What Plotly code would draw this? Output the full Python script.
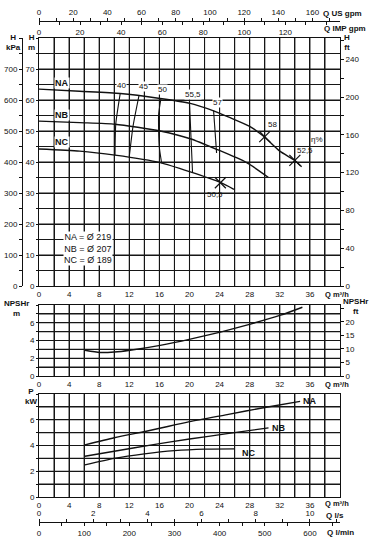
import plotly.graph_objects as go

# ---------------- data ----------------
q_na = [0, 5.4, 10.8, 16.1, 20.1, 23.2, 25.4, 28.0, 29.8, 32.0, 34.0, 34.9]
h_na = [63.5, 62.8, 62.1, 60.5, 58.9, 56.5, 54.3, 51.5, 48.4, 43.5, 40.5, 38.5]
q_nb = [0, 5.4, 10.1, 16.1, 20.1, 23.6, 27.6, 30.5]
h_nb = [53.2, 52.7, 52.2, 50.0, 47.5, 44.1, 39.8, 35.0]
q_nc = [0, 5.4, 10.1, 16.1, 20.1, 24.1, 25.9]
h_nc = [44.2, 43.5, 42.2, 39.8, 36.8, 33.4, 31.2]

eff_lines = {
    "40": ([10.8, 10.2, 10.1], [62.2, 52.2, 42.2]),
    "45": ([13.3, 12.5, 12.0], [61.6, 51.6, 41.8]),
    "50": ([16.2, 15.9, 15.9, 16.0, 16.3], [60.4, 55.4, 50.0, 44.6, 39.6]),
    "55,5": ([20.0, 20.2, 20.4], [59.0, 47.9, 36.8]),
    "57": ([23.2, 23.6], [56.6, 42.9]),
}
eff_label_q = [11.0, 13.9, 16.4, 20.4, 23.7]
eff_label_h = [64.8, 64.2, 63.4, 61.7, 59.2]
eff_label_t = ["40", "45", "50", "55,5", "57"]

x_marks_q = [30.0, 34.0, 24.1]
x_marks_h = [48.2, 40.5, 33.3]
x_marks_lbl = ["58", "52,5", "50,5"]
x_marks_lq = [31.0, 35.3, 23.4]
x_marks_lh = [52.2, 43.6, 29.5]

q_npsh = [6.1, 8.1, 10, 12.1, 16.1, 20.1, 24.1, 28.1, 32.1, 35.0]
npsh = [2.9, 2.65, 2.7, 2.9, 3.45, 4.15, 4.95, 5.85, 6.85, 7.75]

q_pna = [6.1, 10, 15, 20, 25, 30, 34.7]
p_na = [4.05, 4.6, 5.2, 5.85, 6.4, 6.95, 7.43]
q_pnb = [6.1, 10, 15, 20, 25, 30.5]
p_nb = [3.17, 3.55, 4.05, 4.5, 4.92, 5.37]
q_pnc = [6.1, 10, 14, 18, 22, 26]
p_nc = [2.5, 3.0, 3.35, 3.6, 3.72, 3.74]

diam_text = ["NA = Ø 219", "NB = Ø 207", "NC = Ø 189"]

# ---------------- geometry ----------------
W, H = 378, 546
XL, XR = 39, 340
def py(p):
    return 1 - p / H

xdom = [XL / W, XR / W]
dom_h = [py(286), py(38)]
dom_n = [py(376), py(305)]
dom_p = [py(497), py(394)]

FONT = "Liberation Sans, Arial, Helvetica, sans-serif"
BLK = "#111"
GRID = "#161616"

fig = go.Figure()
LW = 1.4

def line(x, y, xa, ya, w=LW):
    fig.add_trace(go.Scatter(x=x, y=y, xaxis=xa, yaxis=ya, mode="lines",
                             line=dict(color=BLK, width=w, shape="spline", smoothing=0.6),
                             hoverinfo="skip", showlegend=False))

line(q_na, h_na, "x", "y")
line(q_nb, h_nb, "x", "y")
line(q_nc, h_nc, "x", "y")
for k, (qq, hh) in eff_lines.items():
    line(qq, hh, "x", "y", 1.1)
fig.add_trace(go.Scatter(x=x_marks_q, y=x_marks_h, xaxis="x", yaxis="y", mode="markers",
                         marker=dict(symbol="x-thin", size=11, line=dict(color=BLK, width=1.2)),
                         hoverinfo="skip", showlegend=False))

line(q_npsh, npsh, "x2", "y3")
line(q_pna, p_na, "x3", "y5")
line(q_pnb, p_nb, "x3", "y5")
line(q_pnc, p_nc, "x3", "y5")

tick_font = dict(family=FONT, size=8, color=BLK)

def xq(dom_anchor):
    tv = list(range(0, 41, 2))
    tt = [str(v) if (v % 4 == 0 and v < 40) else "" for v in tv]
    return dict(domain=xdom, range=[0, 40], tickvals=tv, ticktext=tt, showgrid=True,
                gridcolor=GRID, gridwidth=1, showline=True, linecolor=BLK, linewidth=1,
                mirror=True, ticks="", tickfont=tick_font, anchor=dom_anchor,
                zeroline=False, automargin=False)

m_tv = list(range(0, 81, 5))
m_tt = [str(v) if (v % 10 == 0 and v < 80) else "" for v in m_tv]

fig.update_layout(
    width=W, height=H, margin=dict(l=0, r=0, t=0, b=0, autoexpand=False),
    paper_bgcolor="white", plot_bgcolor="rgba(0,0,0,0)",
    font=dict(family=FONT, size=8, color=BLK),
    xaxis=xq("y"), xaxis2=xq("y3"), xaxis3=xq("y5"),
    yaxis=dict(domain=dom_h, range=[0, 80], tickvals=m_tv, ticktext=m_tt, showgrid=True,
               gridcolor=GRID, gridwidth=1, showline=True, linecolor=BLK, mirror=True,
               ticks="outside", ticklen=2, tickcolor=BLK, tickfont=tick_font, anchor="x",
               zeroline=False, automargin=False),
    yaxis2=dict(domain=dom_h, range=[0, 80 / 0.3048], overlaying="y", side="right", anchor="x",
                tickvals=list(range(0, 261, 20)),
                ticktext=[str(v) if v % 40 == 0 else "" for v in range(0, 261, 20)],
                ticks="outside", ticklen=3, tickcolor=BLK, showgrid=False, tickfont=tick_font,
                zeroline=False, automargin=False),
    yaxis7=dict(domain=dom_h, range=[0, 800], overlaying="y", anchor="free", position=22 / W,
                side="left", tickvals=list(range(0, 801, 50)),
                ticktext=[str(v) if (v % 100 == 0 and v < 800) else "" for v in range(0, 801, 50)],
                ticks="outside", ticklen=3, tickcolor=BLK, showline=True, linecolor=BLK,
                linewidth=1, showgrid=False, tickfont=tick_font, zeroline=False, automargin=False),
    yaxis3=dict(domain=dom_n, range=[0, 8], tickvals=list(range(0, 9)),
                ticktext=[str(v) if (v % 2 == 0 and v < 8) else "" for v in range(0, 9)],
                showgrid=True, gridcolor=GRID, gridwidth=1, showline=True, linecolor=BLK,
                mirror=True, ticks="outside", ticklen=2, tickcolor=BLK, tickfont=tick_font,
                anchor="x2", zeroline=False, automargin=False),
    yaxis4=dict(domain=dom_n, range=[0, 8 / 0.3048], overlaying="y3", side="right", anchor="x2",
                tickvals=[0, 5, 10, 15, 20, 25], ticktext=["0", "5", "10", "15", "20", ""],
                ticks="outside", ticklen=3, tickcolor=BLK, showgrid=False, tickfont=tick_font,
                zeroline=False, automargin=False),
    yaxis5=dict(domain=dom_p, range=[0, 8], tickvals=list(range(0, 9)),
                ticktext=[str(v) if (v % 2 == 0 and v < 8) else "" for v in range(0, 9)],
                showgrid=True, gridcolor=GRID, gridwidth=1, showline=True, linecolor=BLK,
                mirror=True, ticks="outside", ticklen=2, tickcolor=BLK, tickfont=tick_font,
                anchor="x3", zeroline=False, automargin=False),
    # top flow axes
    xaxis4=dict(domain=xdom, range=[0, 40 * 4.4029], overlaying="x", anchor="free",
                position=py(21), side="top", tickvals=list(range(0, 171, 10)),
                ticktext=[str(v) if (v % 20 == 0) else "" for v in range(0, 171, 10)],
                ticks="outside", ticklen=3, tickcolor=BLK, showline=True, linecolor=BLK,
                linewidth=1, showgrid=False, tickfont=tick_font, zeroline=False, automargin=False),
    xaxis5=dict(domain=xdom, range=[0, 40 * 3.6662], overlaying="x", anchor="free",
                position=py(21), side="bottom", tickvals=list(range(0, 141, 10)),
                ticktext=[str(v) if (v % 20 == 0 and v <= 120) else "" for v in range(0, 141, 10)],
                ticks="outside", ticklen=3, tickcolor=BLK, showline=False, showgrid=False,
                tickfont=tick_font, zeroline=False, automargin=False),
    # bottom flow axes
    xaxis6=dict(domain=xdom, range=[0, 40 / 3.6], overlaying="x", anchor="free",
                position=py(522), side="top", tickvals=list(range(0, 12)),
                ticktext=[str(v) if v % 2 == 0 else "" for v in range(0, 12)],
                ticks="outside", ticklen=3, tickcolor=BLK, showline=True, linecolor=BLK,
                linewidth=1, showgrid=False, tickfont=tick_font, zeroline=False, automargin=False),
    xaxis7=dict(domain=xdom, range=[0, 40 / 0.06], overlaying="x", anchor="free",
                position=py(522), side="bottom", tickvals=list(range(0, 651, 50)),
                ticktext=[str(v) if v % 100 == 0 else "" for v in range(0, 651, 50)],
                ticks="outside", ticklen=3, tickcolor=BLK, showline=False, showgrid=False,
                tickfont=tick_font, zeroline=False, automargin=False),
)

# dummy traces so overlay axes render
for xa, ya in [("x", "y2"), ("x", "y7"), ("x2", "y4"), ("x4", "y"), ("x5", "y"), ("x6", "y"), ("x7", "y")]:
    fig.add_trace(go.Scatter(x=[None], y=[None], xaxis=xa, yaxis=ya, showlegend=False, hoverinfo="skip"))

# grid lines as axis-referenced shapes (robust against overlay grid issues)
shapes = []
for xr, yr, ymax, ystep in [("x", "y", 80, 5), ("x2", "y3", 8, 1), ("x3", "y5", 8, 1)]:
    for q in range(2, 40, 2):
        shapes.append(dict(type="line", xref=xr, yref=yr + " domain", x0=q, x1=q, y0=0, y1=1,
                           line=dict(color=GRID, width=1.1), layer="below"))
    for v in range(ystep, ymax, ystep):
        shapes.append(dict(type="line", xref=xr + " domain", yref=yr, x0=0, x1=1, y0=v, y1=v,
                           line=dict(color=GRID, width=1.1), layer="below"))
fig.update_layout(shapes=shapes)

ann = []
def A(x, y, t, xref="paper", yref="paper", bold=False, size=8, xanchor="center",
      yanchor="middle", bg=None):
    d = dict(x=x, y=y, xref=xref, yref=yref, text=("<b>%s</b>" % t) if bold else t,
             showarrow=False, font=dict(family=FONT, size=size, color=BLK),
             xanchor=xanchor, yanchor=yanchor, borderpad=0)
    if bg:
        d["bgcolor"] = bg
    ann.append(d)

# curve labels
A(3.0, 65.4, "NA", "x", "y", bold=True, size=9, bg="white")
A(3.0, 55.2, "NB", "x", "y", bold=True, size=9, bg="white")
A(3.0, 46.6, "NC", "x", "y", bold=True, size=9, bg="white")
for q, h, t in zip(eff_label_q, eff_label_h, eff_label_t):
    A(q, h, t, "x", "y", size=8, bg="white")
for q, h, t in zip(x_marks_lq, x_marks_lh, x_marks_lbl):
    A(q, h, t, "x", "y", size=8)
A(36.9, 47.3, "η%", "x", "y", size=8)
A(3.2, 12.2, "<br>".join(diam_text), "x", "y", size=9, xanchor="left", bg="white")

# axis titles
A(13 / W, py(43), "<b>H</b><br><b>kPa</b>", size=8)
A(31 / W, py(43), "<b>H</b><br><b>m</b>", size=8)
A(343 / W, py(43), "<b>H</b><br><b>ft</b>", size=8, xanchor="left")
A(16 / W, py(308), "<b>NPSHr</b><br><b>m</b>", size=8)
A(342 / W, py(306), "<b>NPSHr</b><br><b>ft</b>", size=8, xanchor="left")
A(31 / W, py(396), "<b>P</b><br><b>kW</b>", size=8)
for yy in [294.5, 384.5, 503.5]:
    A(324 / W, py(yy), "<b>Q m³/h</b>", size=7.5, xanchor="left")
A(322 / W, py(13), "<b>Q US gpm</b>", size=8, xanchor="left")
A(323 / W, py(28), "<b>Q IMP gpm</b>", size=8, xanchor="left")
A(325 / W, py(515), "<b>Q l/s</b>", size=8, xanchor="left")
A(326 / W, py(532), "<b>Q l/min</b>", size=8, xanchor="left")
# power labels
A(36.0, 7.43, "NA", "x3", "y5", bold=True, size=9)
A(31.9, 5.37, "NB", "x3", "y5", bold=True, size=9)
A(27.9, 3.45, "NC", "x3", "y5", bold=True, size=9)

fig.update_layout(annotations=ann)
fig.write_html("out.html", config={"displayModeBar": False},
               post_script="document.body.style.margin='0px';document.body.style.padding='0px';")
